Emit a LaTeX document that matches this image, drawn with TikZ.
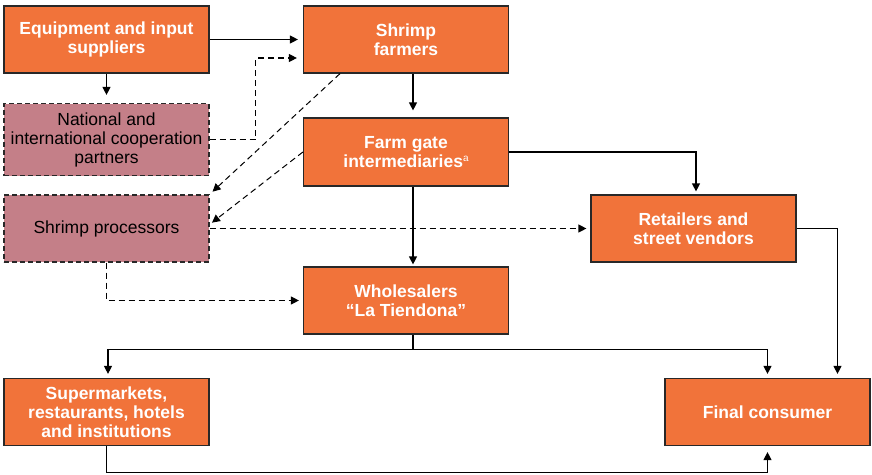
\documentclass[tikz,border=0pt]{standalone}
\usepackage{fontspec}
\setmainfont{Liberation Sans}
\usetikzlibrary{arrows.meta}
\definecolor{orng}{RGB}{241,115,58}
\definecolor{pnk}{RGB}{196,127,136}
\definecolor{edgec}{RGB}{40,40,40}
\begin{document}
\begin{tikzpicture}[x=1pt,y=-1pt,
  box/.style={draw=edgec, line width=1.2pt, minimum width=205pt, minimum height=67pt,
    inner sep=0pt, align=center, font=\fontsize{17.5}{19}\selectfont},
  obox/.style={box, fill=orng, text=white, font=\bfseries\fontsize{17.5}{19}\selectfont},
  pbox/.style={box, fill=pnk, dash pattern=on 5pt off 3pt, text=black},
  arr/.style={draw=black, line width=1.2pt, -{Triangle[length=8pt,width=8pt]}, shorten >=4pt},
  darr/.style={arr, dash pattern=on 6pt off 4pt},
  ln/.style={draw=black, line width=1.2pt}]
\useasboundingbox (0,0) rectangle (872,474);

\node[obox] (equip) at (106.5,39.5) {Equipment and input\\suppliers};
\node[obox] (farm) at (406,39.5) {Shrimp\\farmers};
\node[pbox, minimum height=72pt] (natl) at (106.5,139.5) {National and\\international cooperation\\partners};
\node[pbox] (proc) at (106.5,228.5) {Shrimp processors};
\node[obox, minimum height=68pt] (gate) at (406,152) {Farm gate\\intermediaries\raisebox{6pt}{\mdseries\fontsize{10}{10}\selectfont a}};
\node[obox] (retail) at (693.5,228.5) {Retailers and\\street vendors};
\node[obox] (whole) at (406,300.5) {Wholesalers\\“La Tiendona”};
\node[obox] (super) at (106.5,412) {Supermarkets,\\restaurants, hotels\\and institutions};
\node[obox] (final) at (767.5,412) {Final consumer};

% solid connectors
\draw[arr, shorten >=5pt] (equip.east) -- (farm.west);
\draw[arr, shorten >=8pt] (equip.south) -- (natl.north);
\draw[arr, shorten >=7pt] ([xshift=7pt]farm.south) -- ([xshift=7pt]gate.north);
\draw[arr, shorten >=2pt] ([xshift=7pt]gate.south) -- ([xshift=7pt]whole.north);
\draw[arr, shorten >=3pt] (gate.east) -| ([xshift=2.5pt]retail.north);
\coordinate (w1) at ([xshift=7pt,yshift=-15pt]whole.south);
\draw[ln] ([xshift=7pt]whole.south) -- (w1);
\draw[arr] (w1) -| ([xshift=1.5pt]super.north);
\draw[arr] (w1) -| (final.north);
\draw[arr] (retail.east) -| ([xshift=70pt]final.north);
\draw[arr, shorten >=6pt] (super.south) -- ++(0,26) -| (final.south);

% dashed connectors
\draw[darr, shorten >=6pt] (natl.east) -- ++(46,0) |- ([yshift=-18.5pt]farm.west);
\draw[darr, line width=1pt] ([xshift=-66pt]farm.south) -- (proc.north east);
\draw[darr, line width=1pt, shorten >=3pt] (gate.west) -- ([yshift=4pt]proc.east);
\draw[darr] (proc.east) -- (retail.west);
\draw[darr] (proc.south) |- (whole.west);
\end{tikzpicture}
\end{document}
